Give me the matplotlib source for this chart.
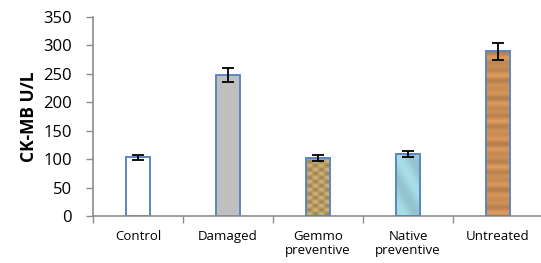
import matplotlib
matplotlib.use("Agg")
import matplotlib.pyplot as plt
import numpy as np

categories = ["Control", "Damaged", "Gemmo\npreventive", "Native\npreventive", "Untreated"]
values = [103, 248, 102, 109, 290]
errors = [5, 12, 5, 6, 15]
colors = ["#ffffff", "#bfbfbf", "#c9a96b", "#a6dbe6", "#d49358"]

plt.rcParams['font.family'] = ['Open Sans', 'DejaVu Sans']

fig = plt.figure(figsize=(5.41, 2.63), dpi=100)
ax = fig.add_axes([93/541, 1-216/263, 450/541, (216-17)/263])

x = np.arange(len(categories))
bars = ax.bar(x, values, width=0.26, color=colors, edgecolor="#5b86c2", linewidth=1.4, zorder=2)

# subtle textures for patterned bars
tex_specs = {2: "checks", 3: "water", 4: "wood"}
for i, kind in tex_specs.items():
    b = bars[i]
    h = values[i]
    yy = np.linspace(0, 1, 200)[:, None]
    xx = np.linspace(0, 1, 20)[None, :]
    if kind == "wood":
        base = np.array([0.83, 0.58, 0.35])
        s = 0.5 + 0.5*np.sin(yy*90) * np.sin(yy*23 + 1.0)
        img = base[None, None, :] * (0.85 + 0.2*s[..., None]) * np.ones((1, 20, 1))
    elif kind == "checks":
        base = np.array([0.80, 0.68, 0.45])
        s = np.sin(yy*45) * np.sin(xx*12)
        img = base[None, None, :] * (0.9 + 0.15*s[..., None])
    else:
        base = np.array([0.65, 0.86, 0.90])
        s = np.sin(yy*8 + xx*5)
        img = base[None, None, :] * (0.95 + 0.06*s[..., None])
    img = np.clip(img, 0, 1)
    im = ax.imshow(img, extent=[b.get_x(), b.get_x()+b.get_width(), 0, h],
                   aspect="auto", origin="lower", zorder=2)
    im.set_clip_path(b)
    b.set_facecolor("none")
    b.set_zorder(3)

ax.errorbar(x, values, yerr=errors, fmt="none", ecolor="black", elinewidth=1.3,
            capsize=4, capthick=1.3, zorder=4)

ax.set_xlim(-0.5, 4.5)
ax.set_ylim(0, 350)
ax.set_yticks(np.arange(0, 351, 50))
ax.tick_params(axis="y", labelsize=12, length=5, color="#8c8c8c", width=1, pad=10)
ax.set_xticks(np.arange(-0.5, 4.6, 1))
ax.set_xticklabels([])
ax.tick_params(axis="x", length=5, color="#8c8c8c", width=1)
for i, c in enumerate(categories):
    ax.text(i, -24, c, ha="center", va="top", fontsize=9.5, linespacing=1.1)

for s in ["top", "right"]:
    ax.spines[s].set_visible(False)
for s in ["left", "bottom"]:
    ax.spines[s].set_color("#8c8c8c")
    ax.spines[s].set_linewidth(1.2)

ax.set_ylabel("CK-MB U/L", fontsize=12.5, fontweight="bold", labelpad=4)

fig.savefig("out.png", dpi=100)
